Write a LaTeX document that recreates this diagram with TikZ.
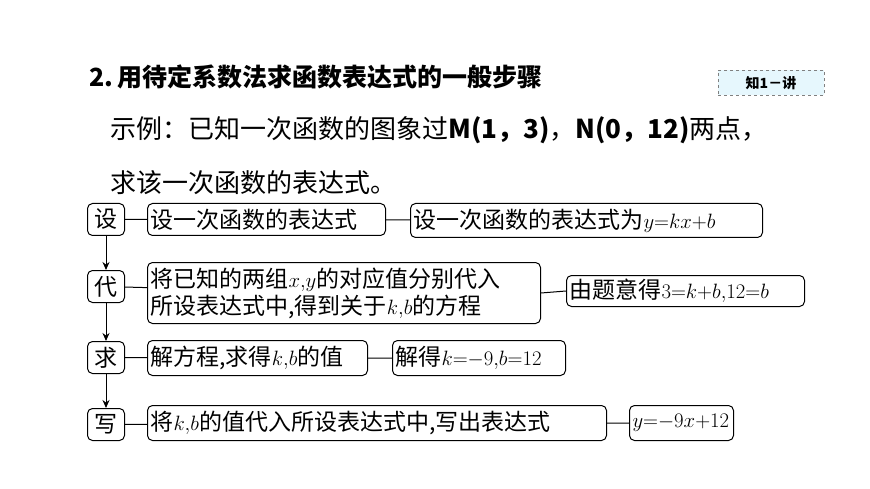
\documentclass[tikz,border=0pt]{standalone}
\usepackage{fontspec}
\setmainfont{Noto Sans CJK SC}
\usetikzlibrary{arrows.meta}
\newcommand{\mymath}[1]{{\fontsize{20}{24}\selectfont$#1$}}
\begin{document}
\begin{tikzpicture}[x=1pt,y=-1pt,
  bx/.style={draw,rounded corners=5pt,line width=1pt,inner xsep=3pt,inner ysep=0pt,anchor=north west,font=\fontsize{23}{27}\selectfont,align=left},
  st/.style={bx,minimum width=37pt,minimum height=32pt,text width=31pt,align=center,inner xsep=0pt},
  ln/.style={line width=1pt},
  ar/.style={ln,-{Stealth[length=8pt,width=7pt]}}]
\useasboundingbox (0,0) rectangle (870,489);
\node[anchor=west,font=\fontsize{25}{30}\selectfont\bfseries] (h) at (86,77) {2.\,用待定系数法求函数表达式的一般步骤};
\node[draw=gray,dashed,fill=cyan!10,minimum width=106pt,minimum height=25pt,font=\fontsize{14}{16}\selectfont\bfseries] (k) at (771,83) {知1－讲};
\node[anchor=west,font=\fontsize{26}{30}\selectfont,inner xsep=0pt] (l1) at (110,130) {示例：已知一次函数的图象过\textbf{\textit{M}(1，3)}，\textbf{\textit{N}(0，12)}两点，};
\node[anchor=west,font=\fontsize{26}{30}\selectfont,inner xsep=0pt] (l2) at (110,183) {求该一次函数的表达式。};
\node[st] (s1) at (87,203) {设};
\node[st] (s2) at (87,270) {代};
\node[st] (s3) at (87,341) {求};
\node[st] (s4) at (87,408) {写};
\node[bx,minimum height=32pt,text width=232pt] (a1) at (147,203) {设一次函数的表达式};
\node[bx,minimum height=34pt,text width=346pt] (b1) at (410,203) {设一次函数的表达式为\mymath{y{=}kx{+}b}};
\node[bx,minimum height=61pt,text width=387pt] (a2) at (147,262) {将已知的两组\mymath{x,\!y}的对应值分别代入\\所设表达式中,得到关于\mymath{k,\!b}的方程};
\node[bx,minimum height=31pt,text width=232pt] (b2) at (566,275) {由题意得\mymath{3{=}k{+}b,\!12{=}b}};
\node[bx,minimum height=35pt,text width=214pt] (a3) at (147,340) {解方程,求得\mymath{k,\!b}的值};
\node[bx,minimum height=35pt,text width=167pt] (b3) at (392,340) {解得\mymath{k{=}{-}9,\!b{=}12}};
\node[bx,minimum height=35pt,text width=453pt] (a4) at (147,405) {将\mymath{k,\!b}的值代入所设表达式中,写出表达式};
\node[bx,minimum height=35pt,text width=98pt] (b4) at (629,405) {\mymath{y{=}{-}9x{+}12}};
\draw[ln] (s1) -- (a1) (a1) -- (b1);
\draw[ln] (s2) -- (a2) (a2.east) -- (b2.west);
\draw[ln] (s3) -- (a3) (a3) -- (b3);
\draw[ln] (s4) -- (a4) (a4) -- (b4);
\draw[ar] (s1) -- (s2);
\draw[ar] (s2) -- (s3);
\draw[ar] (s3) -- (s4);
\end{tikzpicture}
\end{document}
